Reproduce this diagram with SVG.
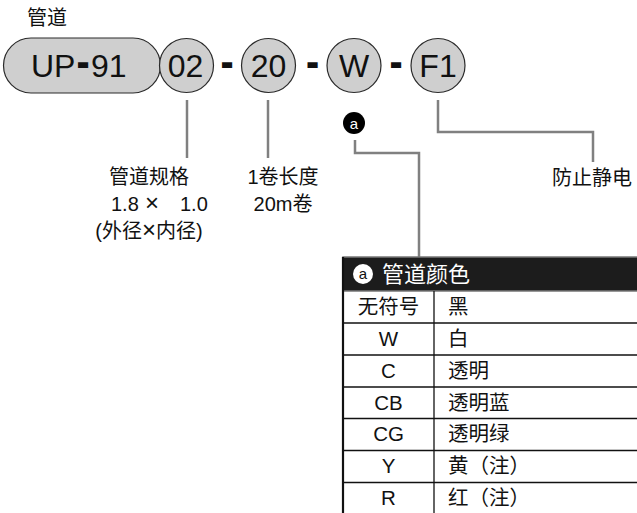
<svg xmlns="http://www.w3.org/2000/svg" width="637" height="513" viewBox="0 0 637 513">
<style>
text{font-family:"Liberation Sans","Noto Sans CJK SC",sans-serif;fill:#111}
.big{font-size:32px}
.dash{font-size:32px;font-weight:bold;stroke:#111;stroke-width:2;text-anchor:middle}
.lbl{font-size:20px}
.mid{text-anchor:middle}
.node{fill:#cfcfcf;stroke:#2a2a2a;stroke-width:1.2}
.conn{fill:none;stroke:#808080;stroke-width:2.5}
.cell{font-size:20.5px}
.grid{stroke:#111;stroke-width:1.3}
</style>
<rect width="637" height="513" fill="#fff"/>
<text id="title" x="27" y="25" class="lbl">管道</text>

<g id="node-up91">
<rect x="3.5" y="38" width="157" height="55" rx="27.5" class="node"/>
<text class="big" y="77"><tspan x="31">UP</tspan></text>
<text class="dash" x="83" y="73">-</text>
<text class="big" y="77"><tspan x="91">91</tspan></text>
</g>
<g id="node-02">
<circle cx="186.5" cy="65.5" r="27" class="node"/>
<text class="big mid" x="185.5" y="77">02</text>
</g>
<text class="dash" x="227" y="73">-</text>
<g id="node-20">
<circle cx="268.5" cy="65.5" r="27" class="node"/>
<text class="big mid" x="268.5" y="77">20</text>
</g>
<text class="dash" x="312.5" y="73">-</text>
<g id="node-W">
<circle cx="354" cy="65.5" r="27" class="node"/>
<text class="big mid" x="354" y="77">W</text>
</g>
<text class="dash" x="396" y="73">-</text>
<g id="node-F1">
<circle cx="438" cy="65.5" r="27" class="node"/>
<text class="big mid" x="438" y="77">F1</text>
</g>

<g id="badge-a">
<circle cx="354" cy="123" r="11" fill="#000"/>
<text x="354" y="128.5" class="mid" style="font-size:15px;fill:#fff">a</text>
</g>

<g id="connectors">
<line x1="187" y1="100" x2="187" y2="158" class="conn"/>
<line x1="268" y1="100" x2="268" y2="158" class="conn"/>
<polyline points="438,100 438,132 593,132 593,162" class="conn"/>
<polyline points="355,140 355,153 419,153 419,257" class="conn"/>
</g>

<g id="label-spec">
<text x="149" y="184" class="lbl mid">管道规格</text>
<text y="211" class="lbl"><tspan x="111">1.8</tspan><tspan x="145" style="font-size:24px">×</tspan><tspan x="180">1.0</tspan></text>
<text x="149" y="238" class="lbl mid">(外径<tspan style="font-size:24px">×</tspan>内径)</text>
</g>
<g id="label-length">
<text x="283" y="184" class="lbl mid">1卷长度</text>
<text x="283" y="211" class="lbl mid">20m卷</text>
</g>
<g id="label-antistatic">
<text x="552" y="185" class="lbl">防止静电</text>
</g>

<g id="table-color">
<rect x="343" y="257" width="300" height="34" fill="#1c1c1c" stroke="#777" stroke-width="1.5"/>
<circle cx="363" cy="274" r="10" fill="#fff"/>
<text x="363" y="279" class="mid" style="font-size:15px;fill:#111">a</text>
<text x="382" y="282" style="font-size:22px;fill:#fff">管道颜色</text>
<g class="grid">
<line x1="343" y1="323" x2="637" y2="323"/>
<line x1="343" y1="355" x2="637" y2="355"/>
<line x1="343" y1="387" x2="637" y2="387"/>
<line x1="343" y1="418.5" x2="637" y2="418.5"/>
<line x1="343" y1="450.5" x2="637" y2="450.5"/>
<line x1="343" y1="482.5" x2="637" y2="482.5"/>
<line x1="434" y1="291" x2="434" y2="513"/>
</g>
<line x1="343" y1="257" x2="343" y2="513" stroke="#111" stroke-width="2.2"/>
<g class="cell">
<text x="388.5" y="314" class="cell mid">无符号</text><text x="448" y="314" class="cell">黑</text>
<text x="388.5" y="346" class="cell mid">W</text><text x="448" y="346" class="cell">白</text>
<text x="388.5" y="378" class="cell mid">C</text><text x="448" y="378" class="cell">透明</text>
<text x="388.5" y="409.5" class="cell mid">CB</text><text x="448" y="409.5" class="cell">透明蓝</text>
<text x="388.5" y="441" class="cell mid">CG</text><text x="448" y="441" class="cell">透明绿</text>
<text x="388.5" y="473" class="cell mid">Y</text><text x="448" y="473" class="cell">黄（注）</text>
<text x="388.5" y="504.5" class="cell mid">R</text><text x="448" y="504.5" class="cell">红（注）</text>
</g>
</g>
</svg>
